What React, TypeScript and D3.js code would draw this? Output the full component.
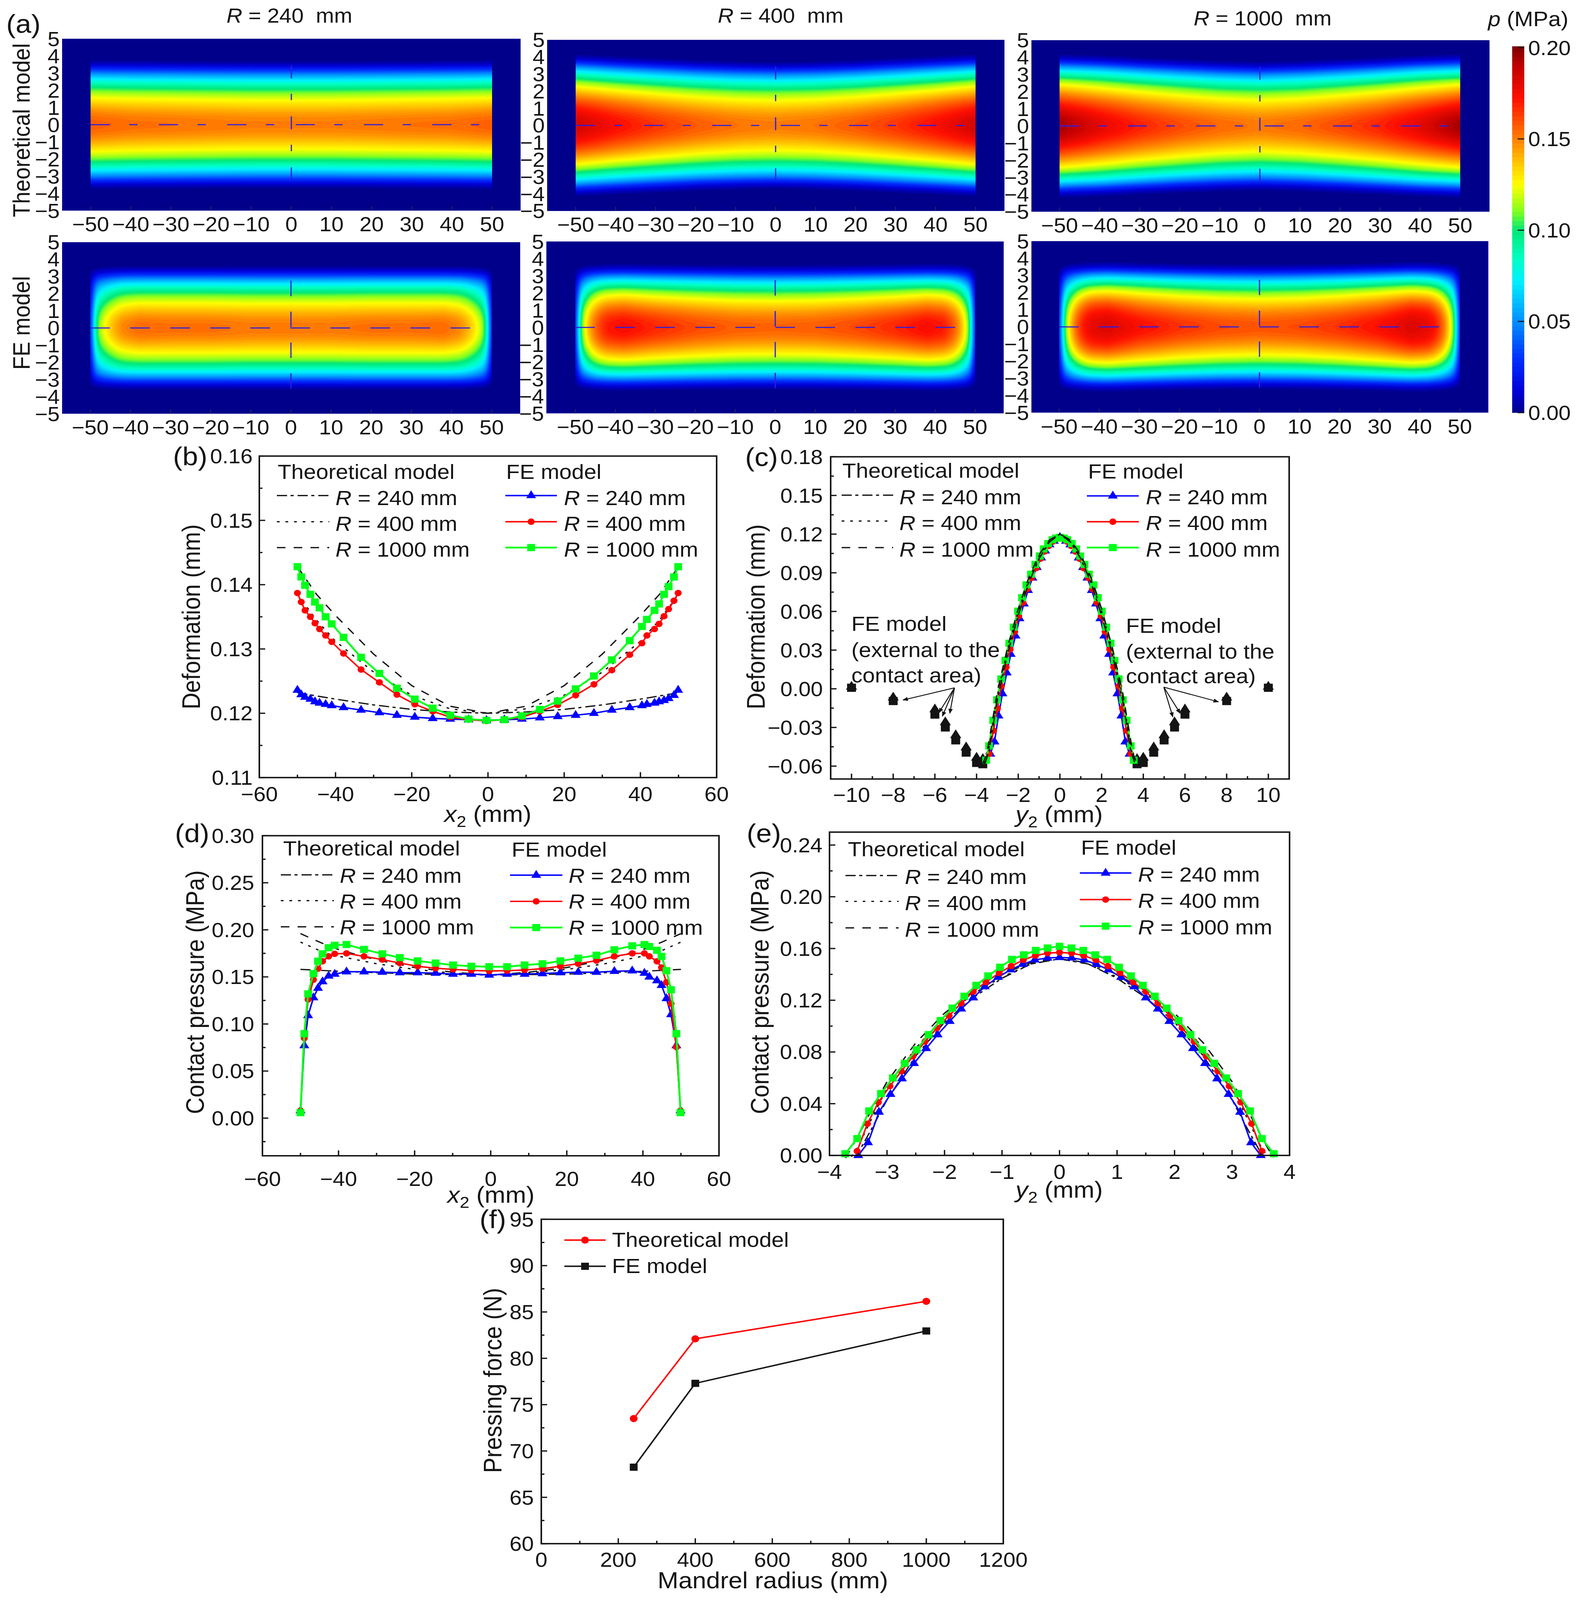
import React, { useMemo } from "react";
import * as d3 from "d3";

// ---------- pressure maps (quarter field, symmetric in x and y) ----------
const yStations = [0, 0.5, 1, 1.5, 2, 2.5, 3, 3.25, 3.5, 3.75, 4];
const xTheory = [0, 10, 20, 30, 40, 50];
const xFE = [0, 10, 20, 30, 38, 42, 44, 46, 48, 49, 50];

const theory240 = [
  [0.152, 0.148, 0.137, 0.123, 0.104, 0.078, 0.045, 0.022, 0.002, 0, 0],
  [0.152, 0.148, 0.137, 0.123, 0.104, 0.078, 0.045, 0.022, 0.002, 0, 0],
  [0.153, 0.149, 0.138, 0.124, 0.105, 0.079, 0.046, 0.023, 0.002, 0, 0],
  [0.154, 0.15, 0.139, 0.125, 0.106, 0.08, 0.047, 0.024, 0.003, 0, 0],
  [0.155, 0.151, 0.14, 0.126, 0.107, 0.081, 0.048, 0.025, 0.003, 0, 0],
  [0.158, 0.154, 0.143, 0.128, 0.109, 0.083, 0.05, 0.027, 0.004, 0, 0],
];
const theory400 = [
  [0.152, 0.148, 0.138, 0.124, 0.106, 0.08, 0.047, 0.025, 0, 0, 0],
  [0.154, 0.15, 0.14, 0.126, 0.108, 0.082, 0.05, 0.028, 0.003, 0, 0],
  [0.159, 0.155, 0.145, 0.131, 0.113, 0.088, 0.056, 0.035, 0.008, 0, 0],
  [0.166, 0.162, 0.152, 0.138, 0.12, 0.096, 0.065, 0.045, 0.02, 0, 0],
  [0.175, 0.171, 0.161, 0.147, 0.128, 0.105, 0.074, 0.056, 0.032, 0.004, 0],
  [0.187, 0.182, 0.173, 0.157, 0.138, 0.115, 0.085, 0.067, 0.044, 0.017, 0],
];
const theory1000 = [
  [0.153, 0.149, 0.139, 0.125, 0.107, 0.082, 0.049, 0.028, 0.003, 0, 0],
  [0.156, 0.152, 0.142, 0.129, 0.11, 0.086, 0.054, 0.033, 0.007, 0, 0],
  [0.162, 0.158, 0.148, 0.135, 0.117, 0.094, 0.062, 0.042, 0.016, 0, 0],
  [0.17, 0.166, 0.156, 0.143, 0.125, 0.103, 0.072, 0.053, 0.028, 0.002, 0],
  [0.181, 0.177, 0.167, 0.153, 0.135, 0.113, 0.083, 0.065, 0.041, 0.012, 0],
  [0.197, 0.192, 0.18, 0.164, 0.145, 0.122, 0.09, 0.072, 0.049, 0.022, 0],
];
const fe240 = [
  [0.153, 0.149, 0.138, 0.123, 0.104, 0.078, 0.04, 0.012, 0, 0, 0],
  [0.153, 0.149, 0.138, 0.123, 0.104, 0.078, 0.04, 0.012, 0, 0, 0],
  [0.155, 0.151, 0.139, 0.124, 0.105, 0.079, 0.041, 0.012, 0, 0, 0],
  [0.155, 0.151, 0.139, 0.124, 0.105, 0.079, 0.041, 0.012, 0, 0, 0],
  [0.156, 0.152, 0.14, 0.124, 0.105, 0.079, 0.041, 0.012, 0, 0, 0],
  [0.15, 0.147, 0.135, 0.12, 0.102, 0.077, 0.04, 0.011, 0, 0, 0],
  [0.142, 0.139, 0.128, 0.113, 0.096, 0.072, 0.037, 0.01, 0, 0, 0],
  [0.13, 0.127, 0.117, 0.103, 0.087, 0.065, 0.033, 0.008, 0, 0, 0],
  [0.112, 0.109, 0.1, 0.088, 0.073, 0.055, 0.027, 0.005, 0, 0, 0],
  [0.085, 0.083, 0.076, 0.066, 0.054, 0.04, 0.019, 0.003, 0, 0, 0],
  [0.006, 0.005, 0.005, 0.004, 0.003, 0.002, 0, 0, 0, 0, 0],
];
const fe400 = [
  [0.157, 0.153, 0.142, 0.127, 0.107, 0.08, 0.041, 0.013, 0, 0, 0],
  [0.158, 0.154, 0.143, 0.128, 0.108, 0.081, 0.042, 0.014, 0, 0, 0],
  [0.162, 0.158, 0.147, 0.132, 0.111, 0.084, 0.045, 0.016, 0, 0, 0],
  [0.169, 0.165, 0.153, 0.137, 0.116, 0.088, 0.049, 0.019, 0, 0, 0],
  [0.176, 0.172, 0.16, 0.143, 0.121, 0.092, 0.052, 0.022, 0.001, 0, 0],
  [0.172, 0.169, 0.157, 0.14, 0.118, 0.09, 0.05, 0.021, 0.001, 0, 0],
  [0.163, 0.16, 0.15, 0.134, 0.113, 0.086, 0.047, 0.019, 0, 0, 0],
  [0.148, 0.145, 0.136, 0.121, 0.102, 0.077, 0.041, 0.016, 0, 0, 0],
  [0.12, 0.118, 0.11, 0.097, 0.08, 0.059, 0.03, 0.01, 0, 0, 0],
  [0.09, 0.088, 0.082, 0.072, 0.058, 0.042, 0.02, 0.006, 0, 0, 0],
  [0.006, 0.005, 0.005, 0.004, 0.003, 0.002, 0, 0, 0, 0, 0],
];
const fe1000 = [
  [0.16, 0.156, 0.145, 0.13, 0.11, 0.082, 0.043, 0.015, 0, 0, 0],
  [0.162, 0.158, 0.147, 0.132, 0.112, 0.084, 0.045, 0.017, 0, 0, 0],
  [0.167, 0.163, 0.152, 0.137, 0.117, 0.089, 0.05, 0.022, 0, 0, 0],
  [0.175, 0.171, 0.16, 0.145, 0.124, 0.096, 0.057, 0.028, 0.002, 0, 0],
  [0.183, 0.18, 0.172, 0.155, 0.131, 0.102, 0.062, 0.034, 0.005, 0, 0],
  [0.18, 0.177, 0.169, 0.152, 0.128, 0.098, 0.059, 0.031, 0.004, 0, 0],
  [0.172, 0.17, 0.16, 0.144, 0.121, 0.092, 0.054, 0.027, 0.003, 0, 0],
  [0.155, 0.152, 0.143, 0.128, 0.107, 0.081, 0.046, 0.022, 0.002, 0, 0],
  [0.122, 0.12, 0.112, 0.1, 0.082, 0.061, 0.034, 0.015, 0.001, 0, 0],
  [0.092, 0.09, 0.084, 0.074, 0.06, 0.044, 0.023, 0.009, 0, 0, 0],
  [0.006, 0.005, 0.005, 0.004, 0.003, 0.002, 0, 0, 0, 0, 0],
];

const colorStops = [0, 0.012, 0.03, 0.05, 0.072, 0.085, 0.1, 0.11, 0.125, 0.135, 0.15, 0.172, 0.19, 0.2];
const colorValues = ["#00008b", "#0000d8", "#0030ff", "#0090ff", "#00f0ff", "#00ffc0", "#00e878", "#80ff20", "#ffff00", "#ffd000", "#ff8000", "#ff1000", "#c00000", "#800000"];
const mapTicks = [-50, -40, -30, -20, -10, 0, 10, 20, 30, 40, 50];
const mapYTicks = [-5, -4, -3, -2, -1, 0, 1, 2, 3, 4, 5];
const barTicks = [0, 0.05, 0.1, 0.15, 0.2];

// ---------- (b) deformation along x2 ----------
const xFEstations = [-50, -49, -48, -46.6, -45.4, -44.2, -42.6, -41, -37.9, -33.3, -28.5, -23.9, -19.2, -14.5, -9.9, -5.1, -0.4, 4.3, 8.9, 13.6, 18.3, 23, 27.8, 32.5, 37.2, 40.4, 41.7, 43.7, 44.9, 46.2, 47.4, 48.8, 49.9];
const bFE240 = [0.1236, 0.1229, 0.1225, 0.1222, 0.1218, 0.1216, 0.1214, 0.1212, 0.1209, 0.1205, 0.1201, 0.1197, 0.1194, 0.1192, 0.1191, 0.119, 0.1189, 0.119, 0.1191, 0.1193, 0.1195, 0.1197, 0.12, 0.1205, 0.1209, 0.1212, 0.1214, 0.1216, 0.1218, 0.122, 0.1223, 0.1228, 0.1236];
const bFE400 = [0.1387, 0.1373, 0.136, 0.135, 0.134, 0.1331, 0.1321, 0.1311, 0.1293, 0.1268, 0.1248, 0.1229, 0.1214, 0.1203, 0.1194, 0.119, 0.1188, 0.119, 0.1194, 0.1203, 0.1213, 0.1228, 0.1245, 0.1267, 0.1291, 0.1309, 0.1321, 0.1331, 0.1339, 0.1351, 0.1362, 0.1375, 0.1387];
const bFE1000 = [0.1428, 0.1412, 0.1399, 0.1385, 0.1373, 0.1364, 0.135, 0.1339, 0.1318, 0.1287, 0.1262, 0.1239, 0.1222, 0.1208, 0.1197, 0.1191, 0.1189, 0.119, 0.1196, 0.1206, 0.1219, 0.1238, 0.1258, 0.1283, 0.1313, 0.1335, 0.1346, 0.136, 0.137, 0.1385, 0.1397, 0.1412, 0.1428];
const xTheoryHalf = [-50, -45, -40, -30, -20, -10, 0];
const bTh240 = [0.1232, 0.1227, 0.1222, 0.1213, 0.1206, 0.1202, 0.12];
const bTh400 = [0.1385, 0.1345, 0.1312, 0.1264, 0.1228, 0.1207, 0.12];
const bTh1000 = [0.1428, 0.1385, 0.1352, 0.1292, 0.1243, 0.1211, 0.12];

// ---------- (c) deformation along y2 ----------
const cX1000 = [0, 0.19, 0.36, 0.57, 0.78, 0.97, 1.18, 1.39, 1.61, 1.82, 2.01, 2.22, 2.43, 2.62, 2.82, 3.02, 3.2, 3.4, 3.54];
const cY1000 = [0.1175, 0.1169, 0.1156, 0.1127, 0.1085, 0.103, 0.0965, 0.0889, 0.0806, 0.0707, 0.0602, 0.0478, 0.0353, 0.022, 0.0076, -0.0086, -0.0245, -0.0443, -0.0554];
const cX400 = [0, 0.16, 0.33, 0.54, 0.75, 0.94, 1.14, 1.37, 1.56, 1.77, 1.98, 2.17, 2.39, 2.58, 2.82, 3, 3.19, 3.4];
const cY400 = [0.1169, 0.1162, 0.1143, 0.1108, 0.1064, 0.1009, 0.0936, 0.086, 0.0774, 0.0669, 0.0564, 0.0443, 0.0306, 0.0168, 0.0019, -0.0153, -0.0325, -0.0506];
const cX240 = [0, 0.29, 0.5, 0.71, 0.9, 1.11, 1.32, 1.53, 1.73, 1.94, 2.13, 2.36, 2.55, 2.76, 2.95, 3.14, 3.34];
const cY240 = [0.1175, 0.1146, 0.1118, 0.107, 0.1016, 0.0942, 0.086, 0.0764, 0.0659, 0.0545, 0.0411, 0.0268, 0.0124, -0.0038, -0.021, -0.0411, -0.0506];
const cThX240 = [0, 0.5, 1, 1.5, 2, 2.5, 3, 3.4, 3.6];
const cThY240 = [0.12, 0.114, 0.101, 0.082, 0.057, 0.028, -0.008, -0.048, -0.058];
const cThX400 = [0, 0.5, 1, 1.5, 2, 2.5, 3, 3.45, 3.65];
const cThY400 = [0.12, 0.115, 0.103, 0.084, 0.06, 0.031, -0.005, -0.05, -0.058];
const cThX1000 = [0, 0.5, 1, 1.5, 2, 2.5, 3, 3.5, 3.7];
const cThY1000 = [0.12, 0.1155, 0.104, 0.086, 0.062, 0.033, -0.002, -0.05, -0.058];
const cOutX = [3.7, 4, 4.5, 5, 5.5, 6, 8, 10];
const cOutSquare = [-0.0585, -0.0575, -0.0495, -0.04, -0.03, -0.02, -0.0095, 0.0008];
const cOutTriangle = [-0.0545, -0.0535, -0.0455, -0.036, -0.026, -0.016, -0.0068, 0.0016];

// ---------- (d) contact pressure along x2 ----------
const dFE240 = [0.0079, 0.077, 0.109, 0.128, 0.138, 0.145, 0.151, 0.153, 0.1555, 0.1555, 0.155, 0.1545, 0.1545, 0.154, 0.153, 0.153, 0.152, 0.153, 0.153, 0.1535, 0.1545, 0.155, 0.155, 0.156, 0.1565, 0.154, 0.15, 0.146, 0.141, 0.127, 0.11, 0.077, 0.0079];
const dFE400 = [0.0079, 0.085, 0.126, 0.147, 0.1587, 0.1666, 0.1718, 0.1745, 0.175, 0.1718, 0.1684, 0.1647, 0.1613, 0.1592, 0.158, 0.1569, 0.1563, 0.1566, 0.1574, 0.1587, 0.1613, 0.164, 0.1673, 0.1718, 0.175, 0.175, 0.1718, 0.1666, 0.16, 0.1443, 0.1215, 0.0755, 0.0079];
const dFE1000 = [0.0058, 0.0897, 0.132, 0.1535, 0.1667, 0.1745, 0.181, 0.1836, 0.1844, 0.1792, 0.1745, 0.1705, 0.167, 0.1647, 0.1626, 0.1613, 0.1608, 0.1608, 0.1626, 0.1639, 0.167, 0.1699, 0.173, 0.1788, 0.183, 0.1844, 0.1823, 0.1783, 0.1718, 0.1566, 0.1364, 0.0897, 0.0058];
const dTh240 = [0.158, 0.157, 0.156, 0.1545, 0.153, 0.1525, 0.152];
const dTh400 = [0.187, 0.178, 0.172, 0.164, 0.158, 0.154, 0.152];
const dTh1000 = [0.196, 0.187, 0.179, 0.168, 0.16, 0.155, 0.152];

// ---------- (e) contact pressure along y2 ----------
const eX1000 = [0, 0.207, 0.414, 0.621, 0.828, 1.035, 1.242, 1.449, 1.656, 1.863, 2.07, 2.277, 2.484, 2.691, 2.898, 3.105, 3.312, 3.519, 3.726];
const eY1000 = [0.1617, 0.1604, 0.1585, 0.1551, 0.1516, 0.1455, 0.1388, 0.1315, 0.1231, 0.1139, 0.1043, 0.0934, 0.0817, 0.0712, 0.0599, 0.0478, 0.0344, 0.013, 0.0013];
const eX400 = [0, 0.21, 0.42, 0.63, 0.84, 1.05, 1.28, 1.5, 1.71, 1.92, 2.13, 2.34, 2.55, 2.75, 2.95, 3.15, 3.34, 3.52];
const eY400 = [0.157, 0.1564, 0.1545, 0.1512, 0.1464, 0.1411, 0.134, 0.1267, 0.1177, 0.1081, 0.0985, 0.088, 0.0766, 0.0651, 0.0536, 0.0411, 0.0245, 0.0033];
const eX240 = [0, 0.21, 0.43, 0.64, 0.85, 1.07, 1.3, 1.5, 1.71, 1.91, 2.12, 2.32, 2.53, 2.74, 2.94, 3.14, 3.33, 3.5];
const eY240 = [0.1531, 0.1527, 0.1512, 0.1478, 0.1436, 0.1378, 0.1305, 0.1219, 0.1133, 0.1037, 0.0934, 0.0827, 0.0712, 0.0593, 0.0473, 0.0335, 0.0099, 0];
const eThX240 = [0, 0.5, 1, 1.5, 2, 2.5, 3, 3.25, 3.55];
const eThY240 = [0.152, 0.148, 0.137, 0.122, 0.103, 0.077, 0.043, 0.022, -0.002];
const eThX400 = [0, 0.5, 1, 1.5, 2, 2.5, 3, 3.25, 3.5, 3.62];
const eThY400 = [0.152, 0.148, 0.138, 0.125, 0.107, 0.083, 0.052, 0.03, 0.007, -0.001];
const eThX1000 = [0, 0.5, 1, 1.5, 2, 2.5, 3, 3.25, 3.5, 3.72];
const eThY1000 = [0.152, 0.149, 0.14, 0.127, 0.11, 0.087, 0.057, 0.037, 0.015, -0.002];

// ---------- (f) pressing force ----------
const radii = [240, 400, 1000];
const forceTheory = [73.5, 82.1, 86.15];
const forceFE = [68.25, 77.3, 82.95];

// ---------- helpers ----------
const FONT = "'Liberation Sans', Arial, sans-serif";
const INK = "#141414";
const BLUE = "#0000ff";
const RED = "#ff0000";
const GREEN = "#00ff1a";
const DASH_DOT = "26 9 8 10";
const DOT = "7 15";
const DASH = "22 21";
const DASH_STYLES = [DASH_DOT, DOT, DASH];
const LINE_COLORS = [BLUE, RED, GREEN];
const SHAPES = [d3.symbolTriangle, d3.symbolCircle, d3.symbolSquare];
const SIZES = [280, 254, 400];
const RLABELS = ["240", "400", "1000"];
const PAGE_W = 4038;
const PAGE_H = 4459;

type Pt = [number, number];
const pts = (xs: number[], ys: number[]): Pt[] => xs.map((x, i) => [x, ys[i]]);
const mirrorLeft = (xs: number[], ys: number[]): Pt[] => {
  const h = pts(xs, ys);
  return [...h, ...h.slice(0, -1).reverse().map(([x, y]) => [-x, y] as Pt)];
};
const mirrorOut = (xs: number[], ys: number[]): Pt[] => {
  const h = pts(xs, ys);
  return [...h.slice(1).reverse().map(([x, y]) => [-x, y] as Pt), ...h];
};
const fieldColor = d3.scaleLinear<string>().domain(colorStops).range(colorValues).interpolate(d3.interpolateRgb).clamp(true);
const symbolPath = (i: number, scale = 1) => d3.symbol().type(SHAPES[i]).size(SIZES[i] * scale)() as string;

const RText = ({ x, y, r, size = 57 }: any) => (
  <text x={x} y={y + size * 0.36} fontSize={size} fill={INK} xmlSpace="preserve">
    <tspan fontStyle="italic">R</tspan> = {r} mm
  </text>
);
const Label = ({ x, y, size = 57, anchor = "start", children, rotate }: any) => (
  <text
    x={x}
    y={y + size * 0.36}
    fontSize={size}
    fill={INK}
    textAnchor={anchor}
    transform={rotate ? `rotate(${rotate} ${x} ${y})` : undefined}
    xmlSpace="preserve"
  >
    {children}
  </text>
);
const VarTitle = ({ x, y, name, unit = "(mm)" }: any) => (
  <text x={x} y={y + 22} fontSize={64} fill={INK} textAnchor="middle">
    <tspan fontStyle="italic">{name}</tspan>
    <tspan fontSize={44} dy={14}>2</tspan>
    <tspan dy={-14}> {unit}</tspan>
  </text>
);

// ---------- heat map panel ----------
function buildGrid(xs: number[], rows: number[][]) {
  const dx = 0.25, dy = 0.1;
  const n = Math.round(100 / dx) + 1, m = Math.round(10 / dy) + 1;
  const data = new Float64Array(n * m);
  const lerpIdx = (arr: number[], v: number) => {
    const i = Math.min(arr.length - 2, Math.max(0, d3.bisectRight(arr, v) - 1));
    return [i, Math.min(1, (v - arr[i]) / (arr[i + 1] - arr[i]))];
  };
  for (let j = 0; j < m; j++) {
    const y = Math.abs(-5 + j * dy);
    const [jy, ty] = lerpIdx(yStations, Math.min(y, 4));
    for (let i = 0; i < n; i++) {
      const x = Math.abs(-50 + i * dx);
      const [ix, tx] = lerpIdx(xs, x);
      const a = rows[ix][jy] * (1 - ty) + rows[ix][jy + 1] * ty;
      const b = rows[ix + 1][jy] * (1 - ty) + rows[ix + 1][jy + 1] * ty;
      data[j * n + i] = a * (1 - tx) + b * tx;
    }
  }
  d3.blur2({ data, width: n, height: m }, 2, 1.5);
  return { data, n, m, dx, dy };
}

const STEP = 0.0025;
const levels = d3.range(STEP, 0.2, STEP);

function HeatMap({ box, tickX0, tickX1, xs, rows, fe }: any) {
  const sx = d3.scaleLinear().domain([-50, 50]).range([tickX0, tickX1]);
  const sy = d3.scaleLinear().domain([5, -5]).range([box.t, box.b]);
  const bands = useMemo(() => {
    const { data, n, m, dx, dy } = buildGrid(xs, rows);
    const gen = d3.contours().size([n, m]).thresholds(levels).smooth(true);
    const tr = d3.geoTransform({
      point(px: number, py: number) {
        const qx = -50 + Math.min(n - 1, Math.max(0, px - 0.5)) * dx;
        const qy = -5 + Math.min(m - 1, Math.max(0, py - 0.5)) * dy;
        (this as any).stream.point(+sx(qx).toFixed(1), +sy(qy).toFixed(1));
      },
    });
    const path = d3.geoPath(tr);
    return gen(Array.from(data)).map((c) => ({ d: path(c as any), v: c.value })).filter((b) => b.d);
  }, []);
  const lineColor = "#2a1fe0";
  return (
    <g>
      <rect x={box.l} y={box.t} width={box.r - box.l} height={box.b - box.t} fill={fieldColor(0)} />
      {bands.map((b, i) => (
        <path key={i} d={b.d as string} fill={fieldColor(b.v + STEP / 2)} />
      ))}
      {mapTicks.map((t) => (
        <line key={t} x1={sx(t)} x2={sx(t)} y1={box.b} y2={box.b - 12} stroke="#20206a" strokeWidth={3} />
      ))}
      {fe ? (
        <g stroke={lineColor} strokeWidth={3} fill="none">
          <line x1={sx(-50)} x2={sx(45)} y1={sy(0)} y2={sy(0)} strokeDasharray="50 52.5" />
          <line x1={sx(0)} x2={sx(0)} y1={sy(2.75)} y2={sy(-3.55)} strokeDasharray="43 43" />
        </g>
      ) : (
        <g stroke={lineColor} strokeWidth={3} fill="none">
          <line x1={sx(-50)} x2={sx(50)} y1={sy(0)} y2={sy(0)} strokeDasharray="49 50 21 55" />
          <line x1={sx(0)} x2={sx(0)} y1={sy(3.45)} y2={sy(-3.45)} strokeDasharray="36 43 18 45" />
        </g>
      )}
      {mapTicks.map((t) => (
        <text key={t} x={sx(t)} y={box.b + 58} fontSize={56} fill={INK} textAnchor="middle">
          {d3.format("d")(t)}
        </text>
      ))}
      {mapYTicks.map((t) => (
        <text key={t} x={box.l - 6} y={sy(t) + 20} fontSize={56} fill={INK} textAnchor="end">
          {d3.format("d")(t)}
        </text>
      ))}
    </g>
  );
}

// ---------- x-y panel frame ----------
function Frame({ box, xDom, yDom, xMajor, xMinor, yMajor, yMinor, yFmt, labelR, xLabelY, children }: any) {
  const sx = d3.scaleLinear().domain(xDom).range([box.l, box.r]);
  const sy = d3.scaleLinear().domain(yDom).range([box.b, box.t]);
  return (
    <g>
      {children(sx, sy)}
      <rect x={box.l} y={box.t} width={box.r - box.l} height={box.b - box.t} fill="none" stroke={INK} strokeWidth={4} />
      {xMajor.map((t: number) => (
        <g key={t}>
          <line x1={sx(t)} x2={sx(t)} y1={box.b} y2={box.b - 15} stroke={INK} strokeWidth={3.5} />
          <text x={sx(t)} y={xLabelY + 20} fontSize={56} fill={INK} textAnchor="middle">{d3.format("d")(t)}</text>
        </g>
      ))}
      {xMinor.map((t: number) => (
        <line key={t} x1={sx(t)} x2={sx(t)} y1={box.b} y2={box.b - 8} stroke={INK} strokeWidth={3.5} />
      ))}
      {yMajor.map((t: number) => (
        <g key={t}>
          <line x1={box.l} x2={box.l + 15} y1={sy(t)} y2={sy(t)} stroke={INK} strokeWidth={3.5} />
          <text x={labelR} y={sy(t) + 20} fontSize={56} fill={INK} textAnchor="end">{d3.format(yFmt)(t)}</text>
        </g>
      ))}
      {yMinor.map((t: number) => (
        <line key={t} x1={box.l} x2={box.l + 8} y1={sy(t)} y2={sy(t)} stroke={INK} strokeWidth={3.5} />
      ))}
    </g>
  );
}

const curvePath = (sx: any, sy: any) => d3.line<Pt>().x((p) => sx(p[0])).y((p) => sy(p[1]));

const TheoryLines = ({ sx, sy, curves }: any) => (
  <g fill="none" stroke={INK} strokeWidth={3.5}>
    {curves.map((c: Pt[], i: number) => (
      <path key={i} d={curvePath(sx, sy)(c) as string} strokeDasharray={DASH_STYLES[i]} />
    ))}
  </g>
);
const FELines = ({ sx, sy, curves }: any) => (
  <g>
    {curves.map((c: Pt[], i: number) => (
      <g key={i}>
        <path d={curvePath(sx, sy)(c) as string} fill="none" stroke={LINE_COLORS[i]} strokeWidth={i === 2 ? 5 : 4} />
        {c.map((p, k) => (
          <path key={k} d={symbolPath(i)} fill={LINE_COLORS[i]} transform={`translate(${sx(p[0])},${sy(p[1])})`} />
        ))}
      </g>
    ))}
  </g>
);

function Legend({ th, fe }: any) {
  return (
    <g>
      <Label x={th.head[0]} y={th.head[1]}>Theoretical model</Label>
      <Label x={fe.head[0]} y={fe.head[1]}>FE model</Label>
      {RLABELS.map((r, i) => (
        <g key={r}>
          <line x1={th.x0} x2={th.x1} y1={th.lines[i]} y2={th.lines[i]} stroke={INK} strokeWidth={3.5} strokeDasharray={DASH_STYLES[i]} />
          <RText x={th.tx} y={th.texts[i]} r={r} />
          <line x1={fe.x0} x2={fe.x1} y1={fe.lines[i]} y2={fe.lines[i]} stroke={LINE_COLORS[i]} strokeWidth={i === 2 ? 5 : 4} />
          <path d={symbolPath(i)} fill={LINE_COLORS[i]} transform={`translate(${(fe.x0 + fe.x1) / 2},${fe.lines[i]})`} />
          <RText x={fe.tx} y={fe.texts[i]} r={r} />
        </g>
      ))}
    </g>
  );
}

const mapPanels = [
  { title: "240", tx: 741, ty: 43, th: { l: 159, r: 1333, t: 108, b: 587 }, fe: { l: 159, r: 1332, t: 675, b: 1153 }, x0: 232, x1: 1260, a: [theory240, fe240] },
  { title: "400", tx: 1999, ty: 43, th: { l: 1401, r: 2572, t: 111, b: 588 }, fe: { l: 1399, r: 2570, t: 673, b: 1152 }, x0: 1474, x1: 2498, a: [theory400, fe400] },
  { title: "1000", tx: 3233, ty: 51, th: { l: 2641, r: 3814, t: 112, b: 590 }, fe: { l: 2641, r: 3811, t: 672, b: 1150 }, x0: 2713, x1: 3739, a: [theory1000, fe1000] },
];

const boxB = { l: 664, r: 1835, t: 1271, b: 2167 };
const boxC = { l: 2127, r: 3301, t: 1273, b: 2171 };
const boxD = { l: 672, r: 1841, t: 2329, b: 3221 };
const boxE = { l: 2124, r: 3302, t: 2319, b: 3220 };
const boxF = { l: 1386, r: 2569, t: 3398, b: 4302 };

export default function App() {
  // The window may be shorter than the page: fit the whole figure into it.
  const drawH = Math.min(PAGE_H, window.innerHeight || PAGE_H);
  const barY = d3.scaleLinear().domain([0, 0.2]).range([1150, 133]);
  const barLevels = d3.range(0, 0.2, STEP);
  const arrowL: [number, number][] = [[2312, 1951], [2404, 1986], [2413, 1996], [2432, 1988]];
  const arrowR: [number, number][] = [[3120, 1956], [3003, 1998], [3022, 1988]];
  return (
    <div style={{ margin: -8, width: PAGE_W, height: drawH, overflow: "hidden" }}>
    <svg
      width={PAGE_W}
      height={drawH}
      viewBox={`0 0 ${PAGE_W} ${PAGE_H}`}
      preserveAspectRatio="none"
      style={{ display: "block", background: "#fff" }}
      fontFamily={FONT}
    >
      <defs>
        <marker id="arrowHead" viewBox="0 0 10 10" refX="9" refY="5" markerWidth="22" markerHeight="14" markerUnits="userSpaceOnUse" orient="auto">
          <path d="M0,1 L10,5 L0,9 Z" fill={INK} />
        </marker>
      </defs>
      <rect x={0} y={0} width={PAGE_W} height={PAGE_H} fill="#fff" />

      {/* (a) heat maps */}
      <Label x={16} y={66} size={72}>(a)</Label>
      {mapPanels.map((p) => (
        <g key={p.title}>
          <text x={p.tx} y={p.ty + 20} fontSize={56} fill={INK} textAnchor="middle" xmlSpace="preserve">
            <tspan fontStyle="italic">R</tspan> = {p.title}  mm
          </text>
          <HeatMap box={p.th} tickX0={p.x0} tickX1={p.x1} xs={xTheory} rows={p.a[0]} fe={false} />
          <HeatMap box={p.fe} tickX0={p.x0 - 1} tickX1={p.x1 - 1} xs={xFE} rows={p.a[1]} fe={true} />
        </g>
      ))}
      <Label x={54} y={363} size={61} anchor="middle" rotate={-90}>Theoretical model</Label>
      <Label x={54} y={900} size={61} anchor="middle" rotate={-90}>FE model</Label>
      <text x={3913} y={73} fontSize={58} fill={INK} textAnchor="middle">
        <tspan fontStyle="italic">p</tspan> (MPa)
      </text>
      {barLevels.map((v) => (
        <rect key={v} x={3872} y={barY(v + STEP) - 0.5} width={31} height={barY(v) - barY(v + STEP) + 1} fill={fieldColor(v + STEP / 2)} />
      ))}
      <rect x={3872} y={129} width={31} height={5} fill={fieldColor(0.2)} />
      {barTicks.map((t) => (
        <g key={t}>
          <line x1={3886} x2={3903} y1={barY(t)} y2={barY(t)} stroke={INK} strokeWidth={3} />
          <text x={3913} y={barY(t) + 20} fontSize={56} fill={INK}>{d3.format(".2f")(t)}</text>
        </g>
      ))}

      {/* (b) */}
      <Frame box={boxB} xDom={[-60, 60]} yDom={[0.11, 0.16]} xMajor={d3.range(-60, 61, 20)} xMinor={d3.range(-50, 60, 20)}
        yMajor={[0.11, 0.12, 0.13, 0.14, 0.15, 0.16]} yMinor={[0.115, 0.125, 0.135, 0.145, 0.155]} yFmt=".2f" labelR={647} xLabelY={2213}>
        {(sx: any, sy: any) => (
          <g>
            <TheoryLines sx={sx} sy={sy} curves={[mirrorLeft(xTheoryHalf, bTh240), mirrorLeft(xTheoryHalf, bTh400), mirrorLeft(xTheoryHalf, bTh1000)]} />
            <FELines sx={sx} sy={sy} curves={[pts(xFEstations, bFE240), pts(xFEstations, bFE400), pts(xFEstations, bFE1000)]} />
          </g>
        )}
      </Frame>
      <Legend
        th={{ head: [711, 1314], x0: 709, x1: 843, tx: 859, lines: [1381, 1454, 1526], texts: [1387, 1459, 1531] }}
        fe={{ head: [1296, 1314], x0: 1294, x1: 1426, tx: 1444, lines: [1381, 1454, 1526], texts: [1387, 1459, 1531] }}
      />
      <Label x={443} y={1271} size={72}>(b)</Label>
      <Label x={489} y={1719} size={64} anchor="middle" rotate={-90}>Deformation (mm)</Label>
      <VarTitle x={1249} y={2269} name="x" />

      {/* (c) */}
      <Frame box={boxC} xDom={[-11, 11]} yDom={[-0.07, 0.18]} xMajor={d3.range(-10, 11, 2)} xMinor={d3.range(-9, 10, 2)}
        yMajor={[-0.06, -0.03, 0, 0.03, 0.06, 0.09, 0.12, 0.15, 0.18]} yMinor={[-0.045, -0.015, 0.015, 0.045, 0.075, 0.105, 0.135, 0.165]} yFmt=".2f" labelR={2107} xLabelY={2215}>
        {(sx: any, sy: any) => (
          <g>
            {[1, -1].map((side) => (
              <g key={side} fill={INK}>
                {cOutX.map((x, i) => (
                  <g key={i}>
                    <path d={symbolPath(2, 1.3)} transform={`translate(${sx(side * x)},${sy(cOutSquare[i])})`} />
                    <path d={symbolPath(0, 1.25)} transform={`translate(${sx(side * x)},${sy(cOutTriangle[i])})`} />
                  </g>
                ))}
              </g>
            ))}
            <FELines sx={sx} sy={sy} curves={[mirrorOut(cX240, cY240), mirrorOut(cX400, cY400), mirrorOut(cX1000, cY1000)]} />
            <TheoryLines sx={sx} sy={sy} curves={[mirrorOut(cThX240, cThY240), mirrorOut(cThX400, cThY400), mirrorOut(cThX1000, cThY1000)]} />
          </g>
        )}
      </Frame>
      <Legend
        th={{ head: [2157, 1311], x0: 2155, x1: 2287, tx: 2303, lines: [1380, 1452, 1526], texts: [1385, 1457, 1531] }}
        fe={{ head: [2786, 1313], x0: 2783, x1: 2916, tx: 2934, lines: [1382, 1454, 1526], texts: [1385, 1457, 1531] }}
      />
      <Label x={1908} y={1273} size={72}>(c)</Label>
      <Label x={1935} y={1719} size={64} anchor="middle" rotate={-90}>Deformation (mm)</Label>
      <VarTitle x={2712} y={2270} name="y" />
      <Label x={2180} y={1738}>FE model</Label>
      <Label x={2180} y={1811}>(external to the</Label>
      <Label x={2180} y={1881}>contact area)</Label>
      <Label x={2883} y={1743}>FE model</Label>
      <Label x={2883} y={1815}>(external to the</Label>
      <Label x={2883} y={1884}>contact area)</Label>
      {arrowL.map((a, i) => (
        <line key={i} x1={2444} y1={1917} x2={a[0]} y2={a[1]} stroke={INK} strokeWidth={2.5} markerEnd="url(#arrowHead)" />
      ))}
      {arrowR.map((a, i) => (
        <line key={i} x1={2980} y1={1915} x2={a[0]} y2={a[1]} stroke={INK} strokeWidth={2.5} markerEnd="url(#arrowHead)" />
      ))}

      {/* (d) */}
      <Frame box={boxD} xDom={[-60, 60]} yDom={[-0.04, 0.3]} xMajor={d3.range(-60, 61, 20)} xMinor={d3.range(-50, 60, 20)}
        yMajor={[0, 0.05, 0.1, 0.15, 0.2, 0.25, 0.3]} yMinor={[-0.025, 0.025, 0.075, 0.125, 0.175, 0.225, 0.275]} yFmt=".2f" labelR={651} xLabelY={3285}>
        {(sx: any, sy: any) => (
          <g>
            <TheoryLines sx={sx} sy={sy} curves={[mirrorLeft(xTheoryHalf, dTh240), mirrorLeft(xTheoryHalf, dTh400), mirrorLeft(xTheoryHalf, dTh1000)]} />
            <FELines sx={sx} sy={sy} curves={[pts(xFEstations, dFE240), pts(xFEstations, dFE400), pts(xFEstations, dFE1000)]} />
          </g>
        )}
      </Frame>
      <Legend
        th={{ head: [725, 2364], x0: 719, x1: 855, tx: 870, lines: [2438, 2510, 2583], texts: [2440, 2512, 2584] }}
        fe={{ head: [1310, 2367], x0: 1306, x1: 1440, tx: 1456, lines: [2439, 2512, 2585], texts: [2440, 2512, 2585] }}
      />
      <Label x={448} y={2321} size={72}>(d)</Label>
      <Label x={499} y={2765} size={64} anchor="middle" rotate={-90}>Contact pressure (MPa)</Label>
      <VarTitle x={1257} y={3330} name="x" />

      {/* (e) */}
      <Frame box={boxE} xDom={[-4, 4]} yDom={[0, 0.25]} xMajor={d3.range(-4, 5, 1)} xMinor={d3.range(-3.5, 4, 1)}
        yMajor={[0, 0.04, 0.08, 0.12, 0.16, 0.2, 0.24]} yMinor={[0.02, 0.06, 0.1, 0.14, 0.18, 0.22]} yFmt=".2f" labelR={2106} xLabelY={3265}>
        {(sx: any, sy: any) => (
          <g>
            <TheoryLines sx={sx} sy={sy} curves={[mirrorOut(eThX240, eThY240), mirrorOut(eThX400, eThY400), mirrorOut(eThX1000, eThY1000)]} />
            <FELines sx={sx} sy={sy} curves={[mirrorOut(eX240, eY240), mirrorOut(eX400, eY400), mirrorOut(eX1000, eY1000)]} />
          </g>
        )}
      </Frame>
      <Legend
        th={{ head: [2171, 2366], x0: 2165, x1: 2301, tx: 2317, lines: [2440, 2512, 2586], texts: [2443, 2516, 2590] }}
        fe={{ head: [2768, 2361], x0: 2765, x1: 2897, tx: 2914, lines: [2433, 2507, 2581], texts: [2436, 2509, 2583] }}
      />
      <Label x={1912} y={2321} size={72}>(e)</Label>
      <Label x={1945} y={2765} size={64} anchor="middle" rotate={-90}>Contact pressure (MPa)</Label>
      <VarTitle x={2712} y={3316} name="y" />

      {/* (f) */}
      <Frame box={boxF} xDom={[0, 1200]} yDom={[60, 95]} xMajor={d3.range(0, 1201, 200)} xMinor={d3.range(100, 1200, 200)}
        yMajor={d3.range(60, 96, 5)} yMinor={d3.range(62.5, 95, 5)} yFmt="d" labelR={1367} xLabelY={4346}>
        {(sx: any, sy: any) => {
          const line = curvePath(sx, sy);
          return (
            <g>
              <path d={line(pts(radii, forceTheory)) as string} fill="none" stroke={RED} strokeWidth={4} />
              <path d={line(pts(radii, forceFE)) as string} fill="none" stroke={INK} strokeWidth={4} />
              {radii.map((r, i) => (
                <g key={r}>
                  <circle cx={sx(r)} cy={sy(forceTheory[i])} r={10} fill={RED} />
                  <rect x={sx(r) - 10} y={sy(forceFE[i]) - 10} width={20} height={20} fill={INK} />
                </g>
              ))}
            </g>
          );
        }}
      </Frame>
      <line x1={1445} x2={1551} y1={3456} y2={3456} stroke={RED} strokeWidth={4} />
      <circle cx={1498} cy={3456} r={10} fill={RED} />
      <Label x={1567} y={3454}>Theoretical model</Label>
      <line x1={1445} x2={1551} y1={3529} y2={3529} stroke={INK} strokeWidth={4} />
      <rect x={1488} y={3519} width={20} height={20} fill={INK} />
      <Label x={1567} y={3527}>FE model</Label>
      <Label x={1228} y={3397} size={72}>(f)</Label>
      <Label x={1261} y={3847} size={64} anchor="middle" rotate={-90}>Pressing force (N)</Label>
      <Label x={1979} y={4403} size={64} anchor="middle">Mandrel radius (mm)</Label>
    </svg>
    </div>
  );
}
